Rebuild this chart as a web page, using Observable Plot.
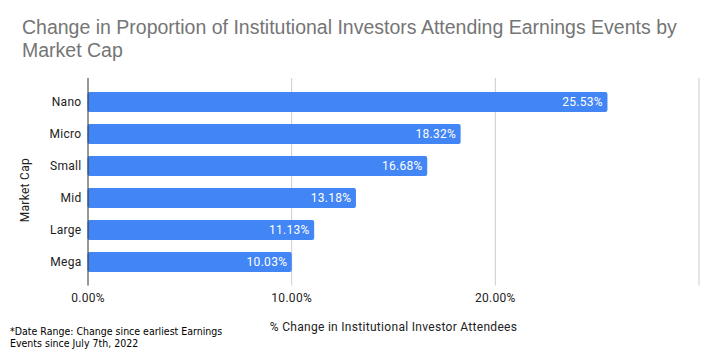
<!DOCTYPE html>
<html>
<head>
<meta charset="utf-8">
<script src="https://cdn.jsdelivr.net/npm/d3@7"></script>
<script src="https://cdn.jsdelivr.net/npm/@observablehq/plot@0.6"></script>
<style>
  html, body { margin: 0; padding: 0; background: #fff; }
  #wrap { position: relative; width: 716px; height: 355px; overflow: hidden; }
  #title { position: absolute; left: 22px; top: 16px; font-family: "Liberation Sans", Arial, sans-serif; font-size: 19.5px; line-height: 23px; color: #757575; }
  #note { position: absolute; left: 10px; top: 325px; font-family: "Liberation Sans Narrow", "DejaVu Sans Condensed", sans-serif; font-size: 10.5px; line-height: 12px; color: #000; }
  #chart { position: absolute; left: 0; top: 0; }
</style>
</head>
<body>
<div id="wrap">
  <div id="chart"></div>
  <div id="title">Change in Proportion of Institutional Investors Attending Earnings Events by<br>Market Cap</div>
  <div id="note">*Date Range: Change since earliest Earnings<br>Events since July 7th, 2022</div>
</div>
<script>
const categories = ["Nano", "Micro", "Small", "Mid", "Large", "Mega"];
const values = [25.53, 18.32, 16.68, 13.18, 11.13, 10.03];
const tickValues = [0, 10, 20];
const gridValues = [10, 20, 30];
const xLabel = "% Change in Institutional Investor Attendees";
const yLabel = "Market Cap";

const data = categories.map((c, i) => ({cat: c, value: values[i]}));
const fmt = d => d.toFixed(2) + "%";

const chart = Plot.plot({
  width: 716,
  height: 355,
  marginTop: 78,
  marginBottom: 69.4,
  marginLeft: 87.5,
  marginRight: 17.5,
  style: {fontFamily: "Roboto, sans-serif", fontSize: "12px", color: "#222", background: "transparent", letterSpacing: "0.3px"},
  x: {domain: [0, 30], axis: null},
  y: {domain: categories, padding: 0.365, axis: null},
  marks: [
    Plot.ruleX(gridValues, {stroke: "#cccccc", strokeWidth: 1}),
    Plot.barX(data, {x: "value", y: "cat", fill: "#4285F4", rx: 2}),
    Plot.ruleX([0], {stroke: "#333333", strokeWidth: 1}),
    Plot.text(data, {x: "value", y: "cat", text: d => fmt(d.value), textAnchor: "end", dx: -5, fill: "white", fontSize: 12}),
    Plot.axisX(tickValues, {tickSize: 0, tickPadding: 7, tickFormat: fmt, label: null, fill: "#222", fontSize: 12}),
    Plot.axisY(categories, {tickSize: 0, tickPadding: 6.5, label: null, fill: "#222", fontSize: 12}),
    Plot.text([xLabel], {frameAnchor: "bottom", dy: 44.4, text: d => d, fill: "#222", fontSize: 12}),
    Plot.text([yLabel], {frameAnchor: "left", dx: -62.5, dy: 40, rotate: -90, text: d => d, fill: "#222", fontSize: 12})
  ]
});
document.getElementById("chart").appendChild(chart);
</script>
</body>
</html>
